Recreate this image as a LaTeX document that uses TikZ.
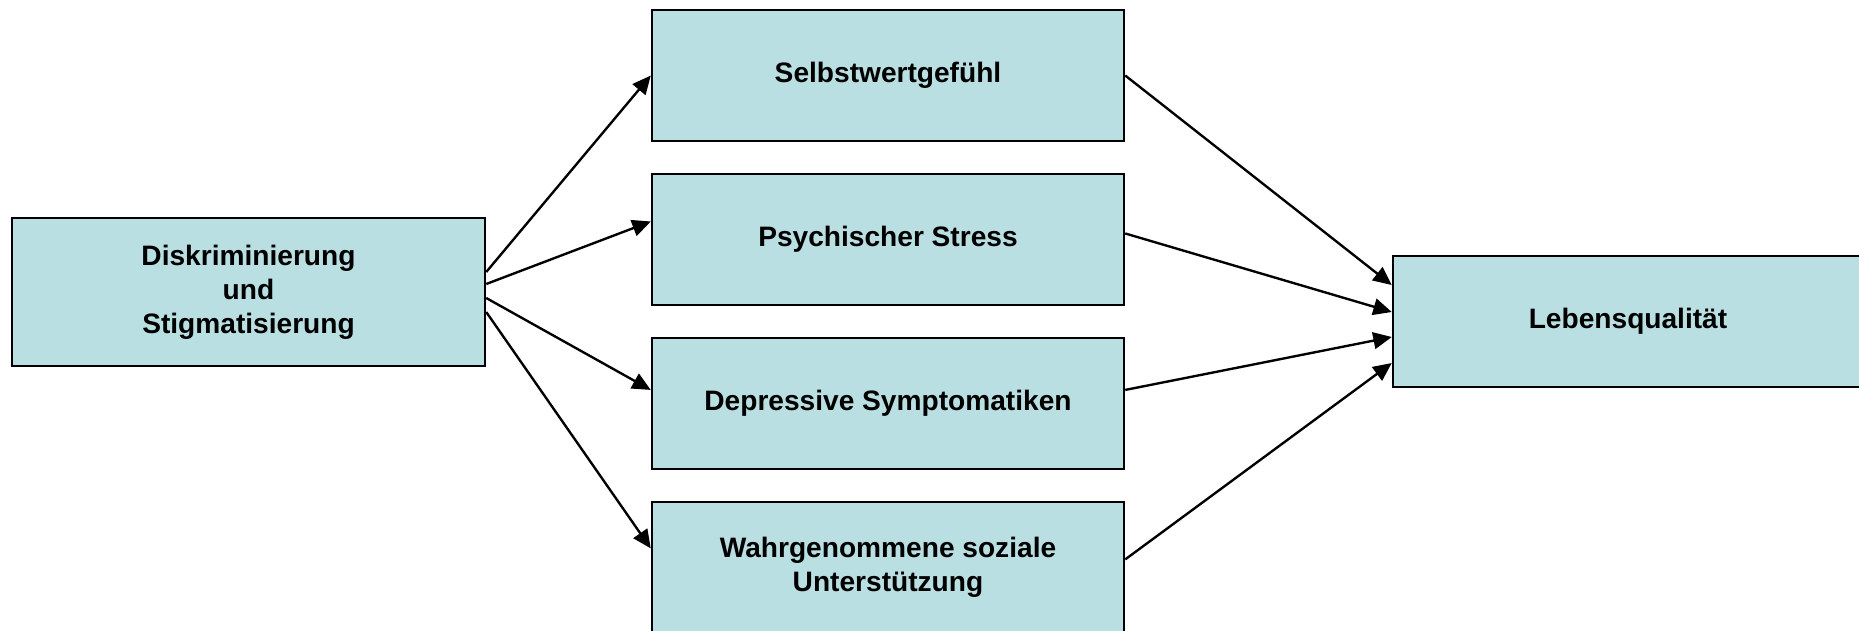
\documentclass[tikz,border=0pt]{standalone}
\usepackage{fontspec}
\setmainfont{Liberation Sans}
\usetikzlibrary{arrows.meta, positioning}

\definecolor{boxfill}{HTML}{B9DFE3}

\tikzset{
  factor/.style={draw, line width=1.4pt, fill=boxfill, align=center,
    minimum width=9.44cm, minimum height=2.62cm, inner sep=2pt,
    font=\fontsize{16}{19.4}\selectfont\bfseries},
  link/.style={line width=1.35pt, -{Triangle[length=10.5pt, width=9.5pt]}}
}

\begin{document}
\begin{tikzpicture}
\useasboundingbox (0,0) rectangle (37.18,-12.6);

\node[factor, minimum width=9.46cm, minimum height=2.96cm] (dis) at (4.97,-5.84) {Diskriminierung\\und\\Stigmatisierung};

\node[factor] (selbst) at (17.76,-1.51) {Selbstwertgefühl};
\node[factor, below=0.61cm of selbst] (stress) {Psychischer Stress};
\node[factor, below=0.61cm of stress] (depr) {Depressive Symptomatiken};
\node[factor, below=0.61cm of depr] (sozial) {Wahrgenommene soziale\\Unterstützung};

\node[factor, minimum width=9.4cm] (leben) at (32.56,-6.43) {Lebensqualität};

% Diskriminierung -> Mediatoren
\draw[link] ([yshift=0.4cm] dis.east) -- (selbst.west);
\draw[link] ([yshift=0.16cm] dis.east) -- ([yshift=0.36cm] stress.west);
\draw[link] ([yshift=-0.12cm] dis.east) -- ([yshift=0.27cm] depr.west);
\draw[link] ([yshift=-0.4cm] dis.east) -- ([yshift=0.38cm] sozial.west);

% Mediatoren -> Lebensqualitaet
\draw[link] (selbst.east) -- ([yshift=0.73cm] leben.west);
\draw[link] ([yshift=0.12cm] stress.east) -- ([yshift=0.19cm] leben.west);
\draw[link] ([yshift=0.27cm] depr.east) -- ([yshift=-0.31cm] leben.west);
\draw[link] ([yshift=0.16cm] sozial.east) -- ([yshift=-0.83cm] leben.west);
\end{tikzpicture}
\end{document}
